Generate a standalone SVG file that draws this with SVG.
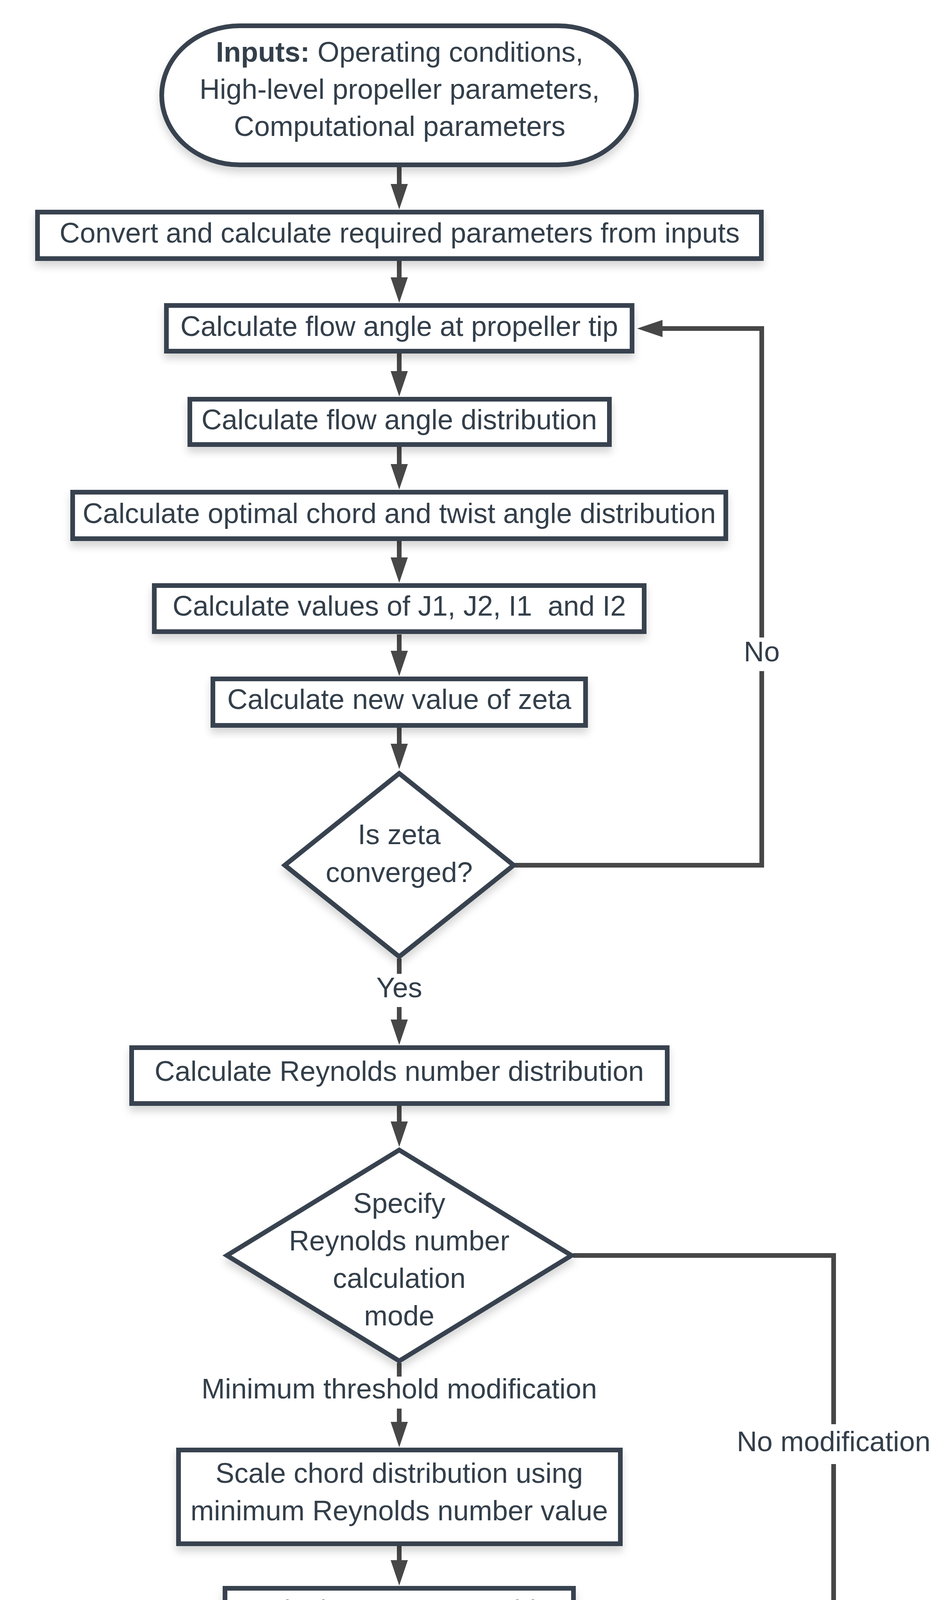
<svg xmlns="http://www.w3.org/2000/svg" width="2414" height="4973" viewBox="0 0 2414 4973">
<style>
.node{fill:#ffffff;stroke:#37434f;stroke-width:12;filter:url(#sh)}
.t{font-family:"Liberation Sans",Arial,sans-serif;font-size:72px;fill:#333f4a;text-anchor:middle}
.b{font-weight:bold}
.c{fill:none;stroke:#474747;stroke-width:12}
.lbg{fill:#ffffff}
</style>
<defs>
<filter id="sh" x="-10%" y="-20%" width="120%" height="150%">
<feDropShadow dx="0" dy="14" stdDeviation="10" flood-color="#000000" flood-opacity="0.16"/>
</filter>
<marker id="ah" markerUnits="userSpaceOnUse" markerWidth="66" markerHeight="44" viewBox="0 0 66 44" refX="1" refY="22" orient="auto">
<path d="M0,0 L65,22 L0,44 z" fill="#474747"/>
</marker>
</defs>
<rect width="2414" height="4973" fill="#ffffff"/>

<g id="connectors">
<line class="c" x1="1022" y1="428" x2="1022" y2="472" marker-end="url(#ah)"/>
<line class="c" x1="1022" y1="668" x2="1022" y2="711" marker-end="url(#ah)"/>
<line class="c" x1="1022" y1="905" x2="1022" y2="951" marker-end="url(#ah)"/>
<line class="c" x1="1022" y1="1144" x2="1022" y2="1189" marker-end="url(#ah)"/>
<line class="c" x1="1022" y1="1385" x2="1022" y2="1428" marker-end="url(#ah)"/>
<line class="c" x1="1022" y1="1624" x2="1022" y2="1667" marker-end="url(#ah)"/>
<line class="c" x1="1022" y1="1863" x2="1022" y2="1905" marker-end="url(#ah)"/>
<line class="c" x1="1022" y1="2454" x2="1022" y2="2611" marker-end="url(#ah)"/>
<path class="c" d="M1318,2215 H1950 V841 H1695" marker-end="url(#ah)"/>
<line class="c" x1="1022" y1="2831" x2="1022" y2="2872" marker-end="url(#ah)"/>
<line class="c" x1="1022" y1="3489" x2="1022" y2="3641" marker-end="url(#ah)"/>
<line class="c" x1="1022" y1="3958" x2="1022" y2="3995" marker-end="url(#ah)"/>
<path class="c" d="M1467,3214 H2134 V4727 H2083" marker-end="url(#ah)"/>
<line class="c" x1="1022" y1="4309" x2="1022" y2="4479" marker-end="url(#ah)"/>
<rect class="lbg" x="1900" y="1632" width="100" height="86"/>
<text class="t" x="1950" y="1693">No</text>
<rect class="lbg" x="955" y="2493" width="135" height="85"/>
<text class="t" x="1022" y="2553">Yes</text>
<rect class="lbg" x="500" y="3524" width="1045" height="82"/>
<text class="t" x="1022" y="3580">Minimum threshold modification</text>
<rect class="lbg" x="1880" y="3646" width="510" height="102"/>
<text class="t" x="2134" y="3715">No modification</text>
</g>

<g id="inputs">
<rect class="node" x="414" y="66" width="1215" height="356" rx="200" ry="178"/>
<text class="t" x="1023" y="158"><tspan class="b">Inputs:</tspan> Operating conditions,</text>
<text class="t" x="1023" y="253">High-level propeller parameters,</text>
<text class="t" x="1023" y="348">Computational parameters</text>
</g>

<g id="convert">
<rect class="node" x="96" y="543" width="1853" height="119"/>
<text class="t" x="1023" y="621">Convert and calculate required parameters from inputs</text>
</g>

<g id="flow-tip">
<rect class="node" x="426" y="782" width="1192" height="117"/>
<text class="t" x="1022" y="860">Calculate flow angle at propeller tip</text>
</g>

<g id="flow-dist">
<rect class="node" x="486" y="1022" width="1074" height="116"/>
<text class="t" x="1022" y="1099">Calculate flow angle distribution</text>
</g>

<g id="chord-twist">
<rect class="node" x="186" y="1260" width="1672" height="119"/>
<text class="t" x="1022" y="1339">Calculate optimal chord and twist angle distribution</text>
</g>

<g id="j-values">
<rect class="node" x="395" y="1499" width="1254" height="118"/>
<text class="t" x="1022" y="1576" xml:space="preserve">Calculate values of J1, J2, I1  and I2</text>
</g>

<g id="zeta">
<rect class="node" x="545" y="1738" width="954" height="119"/>
<text class="t" x="1022" y="1815">Calculate new value of zeta</text>
</g>

<g id="converged">
<polygon class="node" points="1022,1980 1315,2215 1022,2449 729,2215"/>
<text class="t" x="1022" y="2161">Is zeta</text>
<text class="t" x="1022" y="2258">converged?</text>
</g>

<g id="reynolds">
<rect class="node" x="337" y="2682" width="1371" height="143"/>
<text class="t" x="1022" y="2767">Calculate Reynolds number distribution</text>
</g>

<g id="mode">
<polygon class="node" points="1022,2944 1463,3214 1022,3484 581,3214"/>
<text class="t" x="1022" y="3105">Specify</text>
<text class="t" x="1022" y="3201">Reynolds number</text>
<text class="t" x="1022" y="3297">calculation</text>
<text class="t" x="1022" y="3393">mode</text>
</g>

<g id="scale-chord">
<rect class="node" x="457" y="3712" width="1131" height="240"/>
<text class="t" x="1022" y="3796">Scale chord distribution using</text>
<text class="t" x="1022" y="3892">minimum Reynolds number value</text>
</g>

<g id="new-reynolds">
<rect class="node" x="576" y="4066" width="892" height="237"/>
<text class="t" x="1022" y="4147">Calculate new Reynolds</text>
<text class="t" x="1022" y="4242">number distribution</text>
</g>

<g id="output">
<rect class="node" x="37" y="4550" width="1970" height="354" rx="373" ry="177"/>
<text class="t" x="1022" y="4642"><tspan class="b">Output:</tspan> Chord distribution, Twist angle distribution,</text>
<text class="t" x="1022" y="4737">Reynolds number distribution, Thrust and Torque</text>
<text class="t" x="1022" y="4829">distributions</text>
</g>
</svg>
